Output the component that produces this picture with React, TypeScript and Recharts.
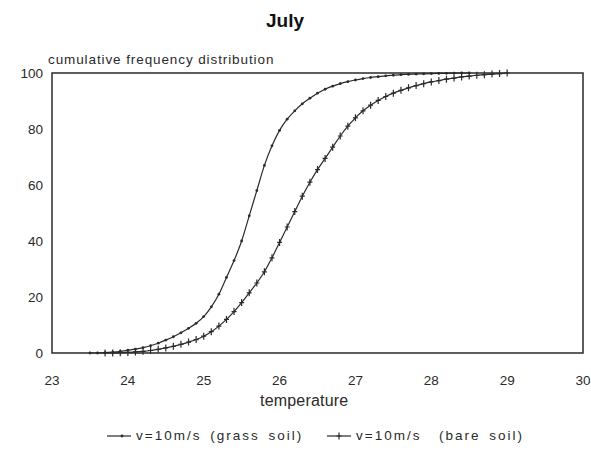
import React from 'react';
import { LineChart, Line, XAxis, YAxis, ReferenceArea } from 'recharts';

// temperature steps (°C) and cumulative frequency (%) for each soil type
const grassTemps = [
  23.5, 23.6, 23.7, 23.8, 23.9, 24.0, 24.1, 24.2, 24.3, 24.4, 24.5, 24.6, 24.7, 24.8, 24.9,
  25.0, 25.1, 25.2, 25.3, 25.4, 25.5, 25.6, 25.7, 25.8, 25.9, 26.0, 26.1, 26.2, 26.3, 26.4,
  26.5, 26.6, 26.7, 26.8, 26.9, 27.0, 27.1, 27.2, 27.3, 27.4, 27.5, 27.6, 27.7, 27.8, 27.9,
  28.0, 28.1, 28.2, 28.3, 28.4, 28.5,
];
const grassFreq = [
  0, 0, 0.1, 0.3, 0.6, 1.0, 1.4, 1.9, 2.6, 3.5, 4.6, 5.8, 7.2, 8.8, 10.6,
  13.0, 16.5, 21, 27, 33, 40, 49, 58, 67, 74, 79.5, 83.5, 86.5, 89, 91,
  92.8, 94.2, 95.3, 96.2, 96.9, 97.5, 98, 98.4, 98.7, 99, 99.2, 99.4, 99.5, 99.6, 99.7,
  99.8, 99.85, 99.9, 99.95, 100, 100,
];

const bareTemps = [
  23.7, 23.8, 23.9, 24.0, 24.1, 24.2, 24.3, 24.4, 24.5, 24.6, 24.7, 24.8, 24.9,
  25.0, 25.1, 25.2, 25.3, 25.4, 25.5, 25.6, 25.7, 25.8, 25.9, 26.0, 26.1, 26.2, 26.3, 26.4,
  26.5, 26.6, 26.7, 26.8, 26.9, 27.0, 27.1, 27.2, 27.3, 27.4, 27.5, 27.6, 27.7, 27.8, 27.9,
  28.0, 28.1, 28.2, 28.3, 28.4, 28.5, 28.6, 28.7, 28.8, 28.9, 29.0,
];
const bareFreq = [
  0, 0, 0.1, 0.2, 0.4, 0.6, 0.9, 1.3, 1.8, 2.4, 3.1, 3.9, 4.8,
  6.0, 7.6, 9.6, 12.0, 14.8, 18.0, 21.5, 25, 29, 34, 39.5, 45, 50.5, 56, 61,
  65.5, 69.5, 73.5, 77.5, 81, 84, 86.5, 88.5, 90.2, 91.6, 92.8, 93.8, 94.7, 95.5, 96.2,
  96.8, 97.3, 97.8, 98.2, 98.6, 98.9, 99.2, 99.4, 99.6, 99.8, 100,
];

const xTicks = [23, 24, 25, 26, 27, 28, 29, 30];
const yTicks = [0, 20, 40, 60, 80, 100];

const grassData = grassTemps.map((t, i) => ({ t, v: grassFreq[i] }));
const bareData = bareTemps.map((t, i) => ({ t, v: bareFreq[i] }));

const INK = '#2a2a2a';
const FONT = '"Liberation Sans", Arial, sans-serif';

const DotMark = (props: any) => {
  const { cx, cy, index } = props;
  if (cx == null || cy == null) return <g key={`g-${index}`} />;
  return <circle key={`g-${index}`} cx={cx} cy={cy} r={1.4} fill={INK} />;
};

const PlusMark = (props: any) => {
  const { cx, cy, index } = props;
  if (cx == null || cy == null) return <g key={`b-${index}`} />;
  return (
    <path
      key={`b-${index}`}
      d={`M${cx},${cy - 3.5}V${cy + 3.5}M${cx - 2.5},${cy}H${cx + 2.5}`}
      stroke={INK}
      strokeWidth={1.2}
      fill="none"
    />
  );
};

const legendStyle: React.CSSProperties = {
  position: 'absolute',
  top: 428,
  fontSize: 13.5,
  display: 'flex',
  alignItems: 'center',
  letterSpacing: 2,
  wordSpacing: 3,
  whiteSpace: 'pre',
};

const App: React.FC = () => {
  return (
    <div style={{ position: 'absolute', left: 0, top: 0, width: 591, height: 451, background: '#fff', fontFamily: FONT, color: INK }}>
      <div style={{ position: 'absolute', left: 266, top: 10, fontSize: 19, fontWeight: 'bold', color: '#111' }}>
        July
      </div>
      <div style={{ position: 'absolute', left: 48, top: 52, fontSize: 13.5, letterSpacing: 0.9 }}>
        cumulative frequency distribution
      </div>

      <LineChart width={591} height={451} data={grassData} margin={{ top: 73, right: 8, bottom: 68, left: 0 }}>
        <XAxis
          type="number"
          dataKey="t"
          domain={[23, 30]}
          ticks={xTicks}
          allowDataOverflow
          axisLine={false}
          tickLine={false}
          tickMargin={16}
          height={30}
          tick={{ fill: INK, fontSize: 13.5, fontFamily: FONT }}
        />
        <YAxis
          type="number"
          domain={[0, 100]}
          ticks={yTicks}
          axisLine={false}
          tickLine={false}
          tickMargin={3}
          width={52}
          tick={{ fill: INK, fontSize: 13.5, fontFamily: FONT }}
        />
        <ReferenceArea x1={23} x2={30} y1={0} y2={100} fill="none" stroke={INK} strokeWidth={1.5} />
        <Line
          data={grassData}
          dataKey="v"
          type="monotone"
          stroke={INK}
          strokeWidth={1.2}
          dot={DotMark}
          activeDot={false}
          isAnimationActive={false}
        />
        <Line
          data={bareData}
          dataKey="v"
          type="monotone"
          stroke={INK}
          strokeWidth={1.2}
          dot={PlusMark}
          activeDot={false}
          isAnimationActive={false}
        />
      </LineChart>

      <div style={{ position: 'absolute', left: 260, top: 392, fontSize: 16, letterSpacing: 0.2 }}>
        temperature
      </div>

      <div style={{ ...legendStyle, left: 106 }}>
        <svg width={26} height={10}>
          <line x1={1} y1={5} x2={25} y2={5} stroke={INK} strokeWidth={1.2} />
          <circle cx={16} cy={5} r={1.4} fill={INK} />
        </svg>
        <span style={{ marginLeft: 4 }}>v=10m/s (grass soil)</span>
      </div>
      <div style={{ ...legendStyle, left: 326 }}>
        <svg width={26} height={10}>
          <line x1={1} y1={5} x2={25} y2={5} stroke={INK} strokeWidth={1.2} />
          <path d="M13,1.5V8.5M10.5,5H15.5" stroke={INK} strokeWidth={1.2} />
        </svg>
        <span style={{ marginLeft: 4 }}>v=10m/s  (bare soil)</span>
      </div>
    </div>
  );
};

export default App;
